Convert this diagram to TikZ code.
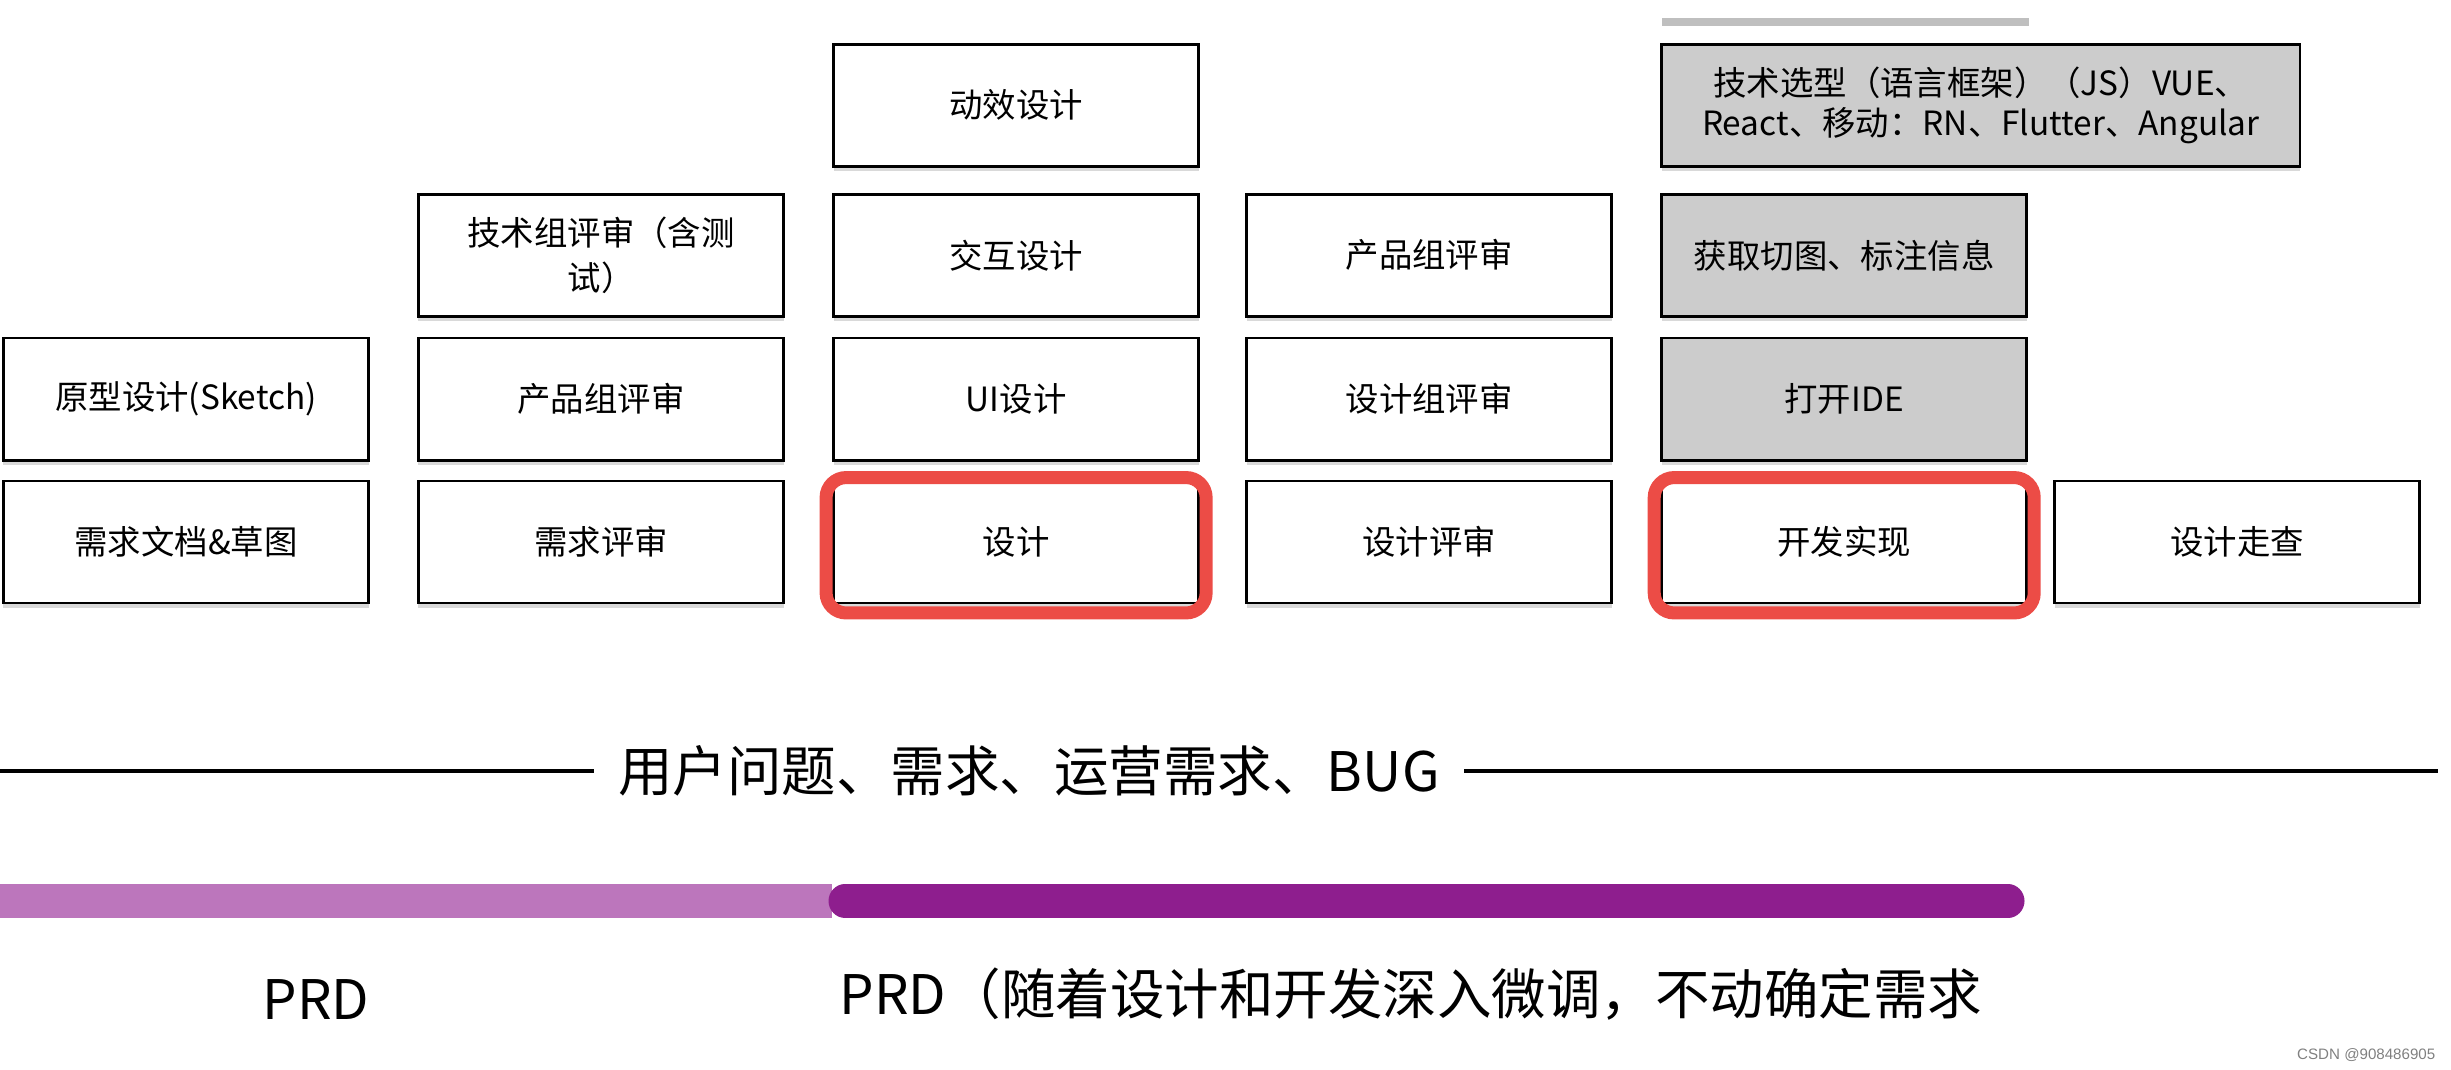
\documentclass[tikz,border=0pt]{standalone}
\usepackage{fontspec}
\setmainfont{Noto Sans CJK SC}
\newfontfamily\markfont{Liberation Sans}
\usetikzlibrary{positioning,shadows}

\definecolor{boxgrey}{RGB}{204,204,204}
\definecolor{hired}{RGB}{236,76,70}
\definecolor{plumlight}{RGB}{188,118,188}
\definecolor{plumdark}{RGB}{142,30,142}

\begin{document}
\begin{tikzpicture}[
    x=0.01cm, y=-0.01cm,
    every node/.style={font=\fontsize{9.5pt}{13pt}\selectfont},
    box/.style={draw, line width=0.8pt, align=center, inner sep=0pt, minimum width=3.65cm, minimum height=1.22cm, fill=white,
        drop shadow={shadow xshift=0pt, shadow yshift=-0.05cm, opacity=0.3}},
    greybox/.style={box, fill=boxgrey},
    hilite/.style={draw=hired, line width=0.13cm, rounded corners=0.2cm},
    rule/.style={line width=1pt},
    phase/.style={line width=0.33cm},
    bigtext/.style={font=\fontsize{15.5pt}{18pt}\selectfont, inner sep=0pt}
]
\useasboundingbox (0,0) rectangle (2451,1070);

% bottom row
\node[box] (req) at (186,542) {需求文档\&草图};
\node[box, right=0.47cm of req] (reqrev) {需求评审};
\node[box, right=0.47cm of reqrev] (design) {设计};
\node[box, right=0.45cm of design] (desrev) {设计评审};
\node[box, right=0.47cm of desrev] (dev) {开发实现};
\node[box, right=0.25cm of dev] (walk) {设计走查};

% stacked steps
\node[box, above=0.18cm of req] (proto) {原型设计(Sketch)};
\node[box, above=0.18cm of reqrev] (prodrev) {产品组评审};
\node[box, above=0.19cm of prodrev] (techrev) {技术组评审（含测\\试）};
\node[box, above=0.18cm of design] (ui) {UI设计};
\node[box, above=0.19cm of ui] (ixd) {交互设计};
\node[box, above=0.25cm of ixd] (motion) {动效设计};
\node[box, above=0.18cm of desrev] (desgrp) {设计组评审};
\node[box, above=0.19cm of desgrp] (prodgrp) {产品组评审};
\node[greybox, above=0.18cm of dev] (ide) {打开IDE};
\node[greybox, above=0.19cm of ide] (assets) {获取切图、标注信息};
\node[greybox, minimum width=6.38cm, font=\fontsize{9.5pt}{11.5pt}\selectfont,
    above=0.25cm of assets.north west, anchor=south west] (stack)
    {技术选型（语言框架）（JS）VUE、\\React、移动：RN、Flutter、Angular};
\draw[black!25, line width=2.5pt] (1662,22) -- (2029,22);

% highlighted steps
\draw[hilite] ([xshift=-0.06cm, yshift=0.02cm]design.north west) rectangle ([xshift=0.06cm, yshift=-0.085cm]design.south east);
\draw[hilite] ([xshift=-0.06cm, yshift=0.02cm]dev.north west) rectangle ([xshift=0.06cm, yshift=-0.085cm]dev.south east);

% input line
\node[bigtext, inner xsep=0.24cm] (issues) at (1029,771) {用户问题、需求、运营需求、BUG};
\coordinate (lineL) at (0,771);
\coordinate (lineR) at (2438,771);
\draw[rule] (lineL) -- (issues.west);
\draw[rule] (issues.east) -- (lineR);

% PRD bar
\coordinate (barL) at (0,901);
\coordinate (barM) at (832,901);
\coordinate (barD) at (845,901);
\coordinate (barR) at (2008,901);
\draw[phase, plumlight] (barL) -- (barM);
\draw[phase, plumdark, line cap=round] (barD) -- (barR);

\node[bigtext] (prd) at (316,1000) {PRD};
\node[bigtext] (prdtune) at (1411,994) {PRD（随着设计和开发深入微调，不动确定需求};

\node[font=\markfont\fontsize{4.3pt}{5pt}\selectfont, text=black!50, inner sep=0pt, anchor=east] (mark) at (2436,1055) {CSDN @908486905};
\end{tikzpicture}
\end{document}
